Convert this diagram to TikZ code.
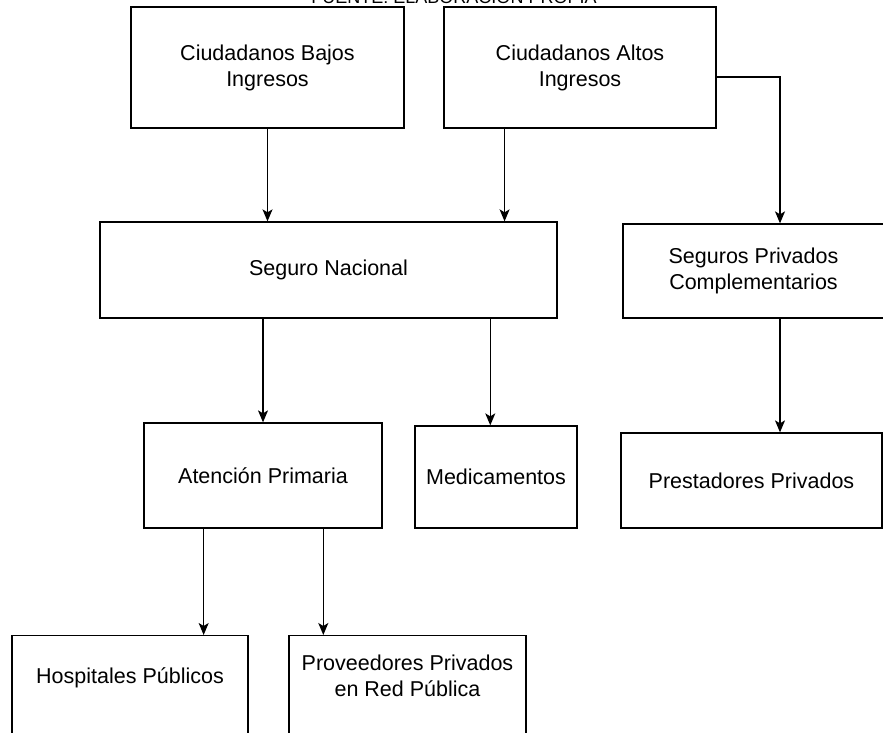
\documentclass[tikz,border=0pt]{standalone}
\usepackage{fontspec}
\setmainfont{Liberation Sans}
\usepackage{tikz}
\usetikzlibrary{calc, arrows.meta, positioning}

\begin{document}
\begin{tikzpicture}[x=1pt,y=-1pt,
    caja/.style={draw,line width=1.3pt,rectangle,align=center,inner sep=2pt,
      font=\fontsize{21.5}{26}\selectfont},
    texto/.style={align=center,font=\fontsize{21.5}{26}\selectfont},
    flecha/.style={line width=1.3pt,-{Stealth[length=12pt,width=10pt,inset=3pt]}}]
\useasboundingbox (0,0) rectangle (883,732);
\clip (0,0) rectangle (883,732);
\node[font=\fontsize{18}{22}\selectfont,anchor=base] (fuente) at (454,3) {FUENTE: ELABORACIÓN PROPIA};
\node[caja,minimum width=273,minimum height=121] (bajos) at (267.5,67.5) {Ciudadanos Bajos\\Ingresos};
\node[caja,minimum width=272,minimum height=121] (altos) at (580,67.5) {Ciudadanos Altos\\Ingresos};
\node[caja,minimum width=457,minimum height=96] (nacional) at (328.5,270) {Seguro Nacional};
\node[caja,minimum width=261,minimum height=94] (privados) at (753.5,271) {Seguros Privados\\Complementarios};
\node[caja,minimum width=238,minimum height=105] (atencion) at (263,475.5) {Atención Primaria};
\node[caja,minimum width=162,minimum height=102] (medic) at (496,477) {Medicamentos};
\node[caja,minimum width=261,minimum height=95] (prest) at (751.5,480.5) {Prestadores Privados};
\node[caja,minimum width=236,minimum height=100,anchor=north] (hosp) at (130,635) {};
\node[caja,minimum width=237,minimum height=100,anchor=north] (prov) at (407.5,635) {};
\node[texto] (hosptxt) at (130,678) {Hospitales Públicos};
\node[texto] (provtxt) at (407.5,676) {Proveedores Privados\\en Red Pública};
\path coordinate (a) at ($(altos.south west)!0.224!(altos.south east)$)
      coordinate (b) at ($(nacional.south west)!0.853!(nacional.south east)$)
      coordinate (c) at (780,0)
      coordinate (d) at ($(atencion.south west)!0.252!(atencion.south east)$)
      coordinate (e) at ($(atencion.south west)!0.752!(atencion.south east)$);
\draw[flecha] (bajos.south) -- (bajos |- nacional.north);
\draw[flecha] (a) -- (a |- nacional.north);
\draw[flecha] ([yshift=-9.5pt]altos.east) -| (c |- privados.north);
\draw[flecha] (atencion |- nacional.south) -- (atencion.north);
\draw[flecha] (b) -- (b |- medic.north);
\draw[flecha] (c |- privados.south) -- (c |- prest.north);
\draw[flecha] (d) -- (d |- hosp.north);
\draw[flecha] (e) -- (e |- prov.north);
\end{tikzpicture}
\end{document}
